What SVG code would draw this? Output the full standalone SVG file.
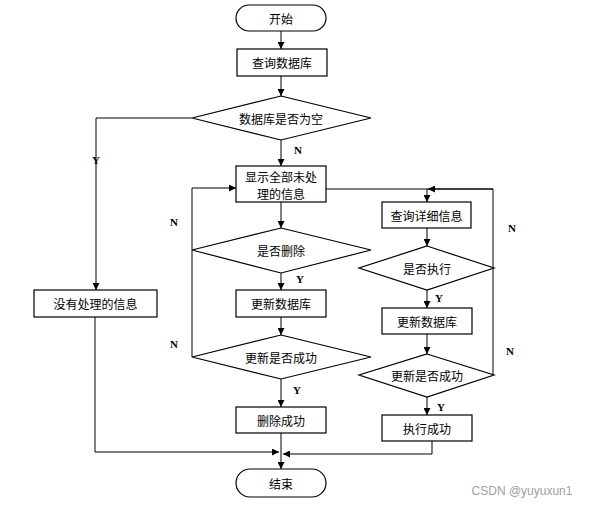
<svg xmlns="http://www.w3.org/2000/svg" width="591" height="506" viewBox="0 0 591 506">
<defs>
<marker id="arr" viewBox="0 0 10 10" refX="10" refY="5" markerWidth="7" markerHeight="7" markerUnits="userSpaceOnUse" orient="auto">
<path d="M0,0 L10,5 L0,10 z" fill="#000"/>
</marker>
<style>
.s{fill:#fff;stroke:#000;stroke-width:1.2}
.c{fill:none;stroke:#000;stroke-width:1}
.t{font-family:"Noto Sans CJK SC","Noto Sans",sans-serif;font-size:12px;fill:#000;text-anchor:middle;dominant-baseline:central}
.l{font-family:"Liberation Serif",serif;font-size:11px;font-weight:bold;fill:#000;text-anchor:middle;dominant-baseline:central}
</style>
</defs>
<rect width="591" height="506" fill="#fff"/>
<g id="connectors">
<line class="c" x1="281" y1="31" x2="281" y2="49" marker-end="url(#arr)"/>
<line class="c" x1="281" y1="76" x2="281" y2="96" marker-end="url(#arr)"/>
<line class="c" x1="281" y1="140" x2="281" y2="166" marker-end="url(#arr)"/>
<line class="c" x1="281" y1="202" x2="281" y2="228" marker-end="url(#arr)"/>
<line class="c" x1="281" y1="273" x2="281" y2="290" marker-end="url(#arr)"/>
<line class="c" x1="281" y1="317" x2="281" y2="335" marker-end="url(#arr)"/>
<line class="c" x1="281" y1="379" x2="281" y2="407" marker-end="url(#arr)"/>
<line class="c" x1="281" y1="433" x2="281" y2="469" marker-end="url(#arr)"/>
<polyline class="c" points="192,118 96,118 96,290" marker-end="url(#arr)"/>
<polyline class="c" points="95,317 95,452 279,452" marker-end="url(#arr)"/>
<polyline class="c" points="192,357 192,188 236,188" marker-end="url(#arr)"/>
<polyline class="c" points="326,189 493,189 493,375"/>
<line class="c" x1="493" y1="189" x2="428" y2="189" marker-end="url(#arr)"/>
<line class="c" x1="427" y1="189" x2="427" y2="202" marker-end="url(#arr)"/>
<line class="c" x1="427" y1="228" x2="427" y2="246" marker-end="url(#arr)"/>
<line class="c" x1="427" y1="290" x2="427" y2="308" marker-end="url(#arr)"/>
<line class="c" x1="427" y1="334" x2="427" y2="354" marker-end="url(#arr)"/>
<line class="c" x1="427" y1="397" x2="427" y2="415" marker-end="url(#arr)"/>
<polyline class="c" points="432,441 432,454 283,454" marker-end="url(#arr)"/>
<text class="l" x="298" y="150">N</text>
<text class="l" x="96" y="160">Y</text>
<text class="l" x="174" y="222">N</text>
<text class="l" x="300" y="279">Y</text>
<text class="l" x="174" y="344">N</text>
<text class="l" x="297" y="390">Y</text>
<text class="l" x="512" y="228">N</text>
<text class="l" x="439" y="298">Y</text>
<text class="l" x="510" y="351">N</text>
<text class="l" x="441" y="407">Y</text>
</g>
<g id="start">
<rect class="s" x="236" y="5" width="90" height="26" rx="13" ry="13"/>
<text class="t" x="281" y="18">开始</text>
</g>
<g id="query-db">
<rect class="s" x="237" y="49" width="90" height="27"/>
<text class="t" x="282" y="62.5">查询数据库</text>
</g>
<g id="db-empty">
<polygon class="s" points="281,96 371,118 281,140 192,118"/>
<text class="t" x="281" y="118">数据库是否为空</text>
</g>
<g id="no-info">
<rect class="s" x="34" y="290" width="123" height="27"/>
<text class="t" x="95.5" y="303.5">没有处理的信息</text>
</g>
<g id="show-all">
<rect class="s" x="236" y="166" width="90" height="36"/>
<text class="t" x="281" y="176.5" font-size="11.5">显示全部未处</text>
<text class="t" x="281" y="193" font-size="11.5">理的信息</text>
</g>
<g id="is-delete">
<polygon class="s" points="281,228 371,250 281,273 192,250"/>
<text class="t" x="281" y="250">是否删除</text>
</g>
<g id="update-db-left">
<rect class="s" x="236" y="290" width="90" height="27"/>
<text class="t" x="281" y="303.5">更新数据库</text>
</g>
<g id="update-ok-left">
<polygon class="s" points="281,335 371,357 281,379 192,357"/>
<text class="t" x="281" y="357">更新是否成功</text>
</g>
<g id="delete-ok">
<rect class="s" x="236" y="407" width="90" height="26"/>
<text class="t" x="281" y="420">删除成功</text>
</g>
<g id="query-detail">
<rect class="s" x="382" y="202" width="89" height="26"/>
<text class="t" x="426.5" y="215">查询详细信息</text>
</g>
<g id="is-exec">
<polygon class="s" points="427,246 494,268 427,290 359,268"/>
<text class="t" x="427" y="268">是否执行</text>
</g>
<g id="update-db-right">
<rect class="s" x="382" y="308" width="90" height="26"/>
<text class="t" x="427" y="321">更新数据库</text>
</g>
<g id="update-ok-right">
<polygon class="s" points="427,354 494,375 427,397 359,375"/>
<text class="t" x="427" y="375">更新是否成功</text>
</g>
<g id="exec-ok">
<rect class="s" x="382" y="415" width="90" height="26"/>
<text class="t" x="427" y="428">执行成功</text>
</g>
<g id="end">
<rect class="s" x="236" y="469" width="90" height="28" rx="14" ry="14"/>
<text class="t" x="281" y="483">结束</text>
</g>
<text x="522" y="491" font-family="Liberation Sans, Arial, sans-serif" font-size="12" fill="#a0a0a0" text-anchor="middle" dominant-baseline="central">CSDN @yuyuxun1</text>
</svg>
